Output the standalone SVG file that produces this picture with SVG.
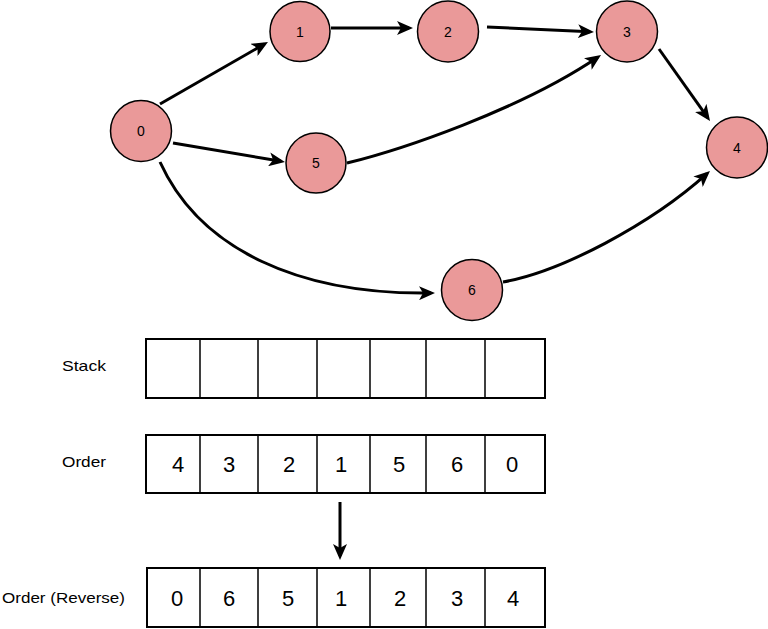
<svg xmlns="http://www.w3.org/2000/svg" width="768" height="629" viewBox="0 0 768 629">
<style>
.node circle{fill:#EA9999;stroke:#000;stroke-width:1.5}
.node text{font-family:"Liberation Sans",Arial,sans-serif;font-size:14px;text-anchor:middle;fill:#000}
.edge{fill:none;stroke:#000;stroke-width:3;marker-end:url(#ah)}
.box{fill:#fff;stroke:#000;stroke-width:2}
.div{stroke:#000;stroke-width:1.5}
.lbl{font-family:"Liberation Sans",Arial,sans-serif;font-size:15px;fill:#000}
.cell{font-family:"Liberation Sans",Arial,sans-serif;font-size:22px;text-anchor:middle;fill:#000}
</style>
<defs>
<marker id="ah" markerUnits="userSpaceOnUse" markerWidth="16" markerHeight="14" viewBox="0 0 16 14" refX="12" refY="7" orient="auto">
<path d="M0,0 L16,7 L0,14 L4,7 Z" fill="#000"/>
</marker>
</defs>
<rect width="768" height="629" fill="#fff"/>
<g id="connectors">
<path class="edge" d="M160,104 L264.5,44"/>
<path class="edge" d="M331,28 L409,28"/>
<path class="edge" d="M487,27 L590,31.8"/>
<path class="edge" d="M347,163 C400,150 520,110 597.7,57.3"/>
<path class="edge" d="M659,49 L707.7,117.7"/>
<path class="edge" d="M173,143 L281,161.3"/>
<path class="edge" d="M160,162 C200,250 300,295 431,293"/>
<path class="edge" d="M503,282 C560,272 650,225 707,173.7"/>
<path class="edge" d="M340,502 L340,556"/>
</g>
<g id="n0" class="node"><circle cx="141" cy="131" r="30.5"/><text x="141" y="136">0</text></g>
<g id="n1" class="node"><circle cx="300" cy="31.5" r="30"/><text x="300" y="37">1</text></g>
<g id="n2" class="node"><circle cx="448" cy="31.5" r="30.5"/><text x="448" y="37">2</text></g>
<g id="n3" class="node"><circle cx="627" cy="31.5" r="30.5"/><text x="627" y="37">3</text></g>
<g id="n4" class="node"><circle cx="737" cy="147.5" r="30.5"/><text x="737" y="153">4</text></g>
<g id="n5" class="node"><circle cx="316" cy="163" r="30"/><text x="316" y="168">5</text></g>
<g id="n6" class="node"><circle cx="472" cy="290" r="30.5"/><text x="472" y="295">6</text></g>
<g id="stack">
<text class="lbl" x="62" y="371" textLength="44" lengthAdjust="spacingAndGlyphs">Stack</text>
<rect class="box" x="146" y="339" width="399" height="59"/>
<path class="div" d="M200,339V398M258,339V398M317,339V398M370,339V398M426,339V398M485,339V398"/>
</g>
<g id="order">
<text class="lbl" x="62" y="467" textLength="44" lengthAdjust="spacingAndGlyphs">Order</text>
<rect class="box" x="146" y="435" width="399" height="58"/>
<path class="div" d="M200,435V493M258,435V493M317,435V493M370,435V493M426,435V493M485,435V493"/>
<text class="cell" x="178" y="472">4</text>
<text class="cell" x="229" y="472">3</text>
<text class="cell" x="289" y="472">2</text>
<text class="cell" x="341" y="472">1</text>
<text class="cell" x="399" y="472">5</text>
<text class="cell" x="457" y="472">6</text>
<text class="cell" x="512" y="472">0</text>
</g>
<g id="reverse">
<text class="lbl" x="2" y="603" textLength="123" lengthAdjust="spacingAndGlyphs">Order (Reverse)</text>
<rect class="box" x="147" y="568" width="398" height="59"/>
<path class="div" d="M200,568V627M258,568V627M317,568V627M370,568V627M426,568V627M485,568V627"/>
<text class="cell" x="177" y="606">0</text>
<text class="cell" x="229" y="606">6</text>
<text class="cell" x="288" y="606">5</text>
<text class="cell" x="341" y="606">1</text>
<text class="cell" x="400" y="606">2</text>
<text class="cell" x="457" y="606">3</text>
<text class="cell" x="513" y="606">4</text>
</g>
</svg>
